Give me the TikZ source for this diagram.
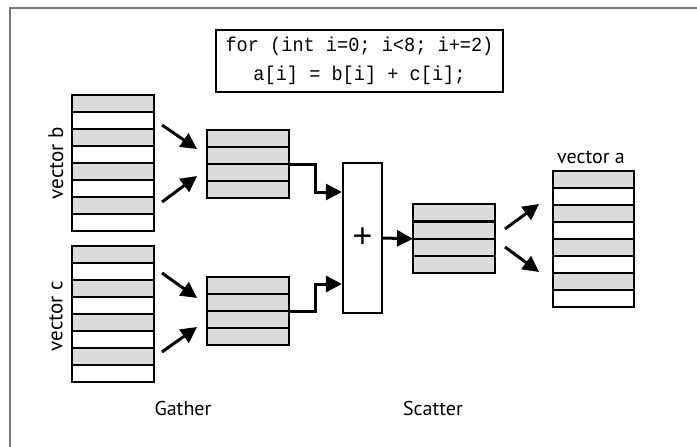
\documentclass[tikz,border=0pt]{standalone}
\usepackage{fontspec}
\usepackage{graphicx}
\setmainfont{PT Sans}
\newfontfamily\codefont[FakeStretch=0.93]{Liberation Mono}
\newfontfamily\plusfont{Liberation Sans}
\usetikzlibrary{arrows.meta,calc}
\definecolor{cellgray}{RGB}{220,220,220}
\definecolor{framegray}{RGB}{120,120,120}
\tikzset{
  cell/.style={draw=black, line width=2.3pt, minimum width=82pt, minimum height=17pt, inner sep=0pt, outer sep=0pt},
  arr/.style={line width=3pt, -{Triangle[length=16pt,width=16pt]}},
  lab/.style={font=\fontsize{20}{22}\selectfont, inner sep=0pt},
  codebox/.style={draw=black, line width=1.3pt, minimum width=287pt, minimum height=62pt, align=center, inner sep=0pt,
    font=\codefont\fontsize{20}{29}\selectfont},
  addbox/.style={draw=black, line width=2.3pt, minimum width=39pt, minimum height=150pt, inner sep=0pt, font=\plusfont\fontsize{34}{34}\selectfont},
}
\begin{document}
\begin{tikzpicture}[x=1pt,y=-1pt]
\useasboundingbox (0,0) rectangle (697,447);
% frame
\draw[framegray, line width=1.6pt] (10,447) -- (10,8) -- (697,8);
% code
\node[codebox] (code) at (359.5,61) {for (int i=0; i<8; i+=2)\\a[i] = b[i] + c[i];};
% vector b, c and a (8 rows)
\foreach \i in {1,...,8}{
  \ifodd\i \def\fc{cellgray}\else\def\fc{white}\fi
  \node[cell, fill=\fc] (b\i) at (113,{86.5+17*\i}) {};
  \node[cell, fill=\fc] (c\i) at (113,{237.5+17*\i}) {};
  \node[cell, fill=\fc, minimum width=81pt] (a\i) at (593.3,{162.2+17*\i}) {};
}
% gathered b, c and result (4 rows)
\foreach \i in {1,...,4}{
  \node[cell, fill=cellgray] (gb\i) at (248,{121.5+17*\i}) {};
  \node[cell, fill=cellgray] (gc\i) at (248,{268.5+17*\i}) {};
  \node[cell, fill=cellgray, minimum height=17.25pt] (r\i) at (454,{195.7+17.25*\i}) {};
}
% adder
\node[addbox] (plus) at (362.5,238) {+};
% labels
\node[lab, rotate=90, font=\fontsize{21}{22}\selectfont] (vb) at (56,163) {vector b};
\node[lab, rotate=90, font=\fontsize{21}{22}\selectfont] (vc) at (56,316) {vector c};
\node[lab] (va) at (591,157) {vector a};
\node[lab] (gath) at (183,408) {Gather};
\node[lab] (scat) at (433,408) {Scatter};
% gather arrows
\coordinate (bs1) at (162,125); \coordinate (be1) at (197,149);
\coordinate (bs2) at (162,202); \coordinate (be2) at (197,176);
\coordinate (cs1) at (162,273); \coordinate (ce1) at (197,298);
\coordinate (cs2) at (162,352); \coordinate (ce2) at (197,327);
\draw[arr] (bs1) -- (be1);
\draw[arr] (bs2) -- (be2);
\draw[arr] (cs1) -- (ce1);
\draw[arr] (cs2) -- (ce2);
% into adder
\draw[arr] (gb2.south east) -- ++(26,0) |- ([yshift=46pt]plus.west);
\draw[arr] (gc2.south east) -- ++(26,0) |- ([yshift=-46pt]plus.west);
\draw[arr] (plus.east) -- (r2.south west);
% scatter arrows
\coordinate (ss1) at (505,229); \coordinate (se1) at (539,204);
\coordinate (ss2) at (505,247); \coordinate (se2) at (539,272);
\draw[arr] (ss1) -- (se1);
\draw[arr] (ss2) -- (se2);
\end{tikzpicture}
\end{document}
